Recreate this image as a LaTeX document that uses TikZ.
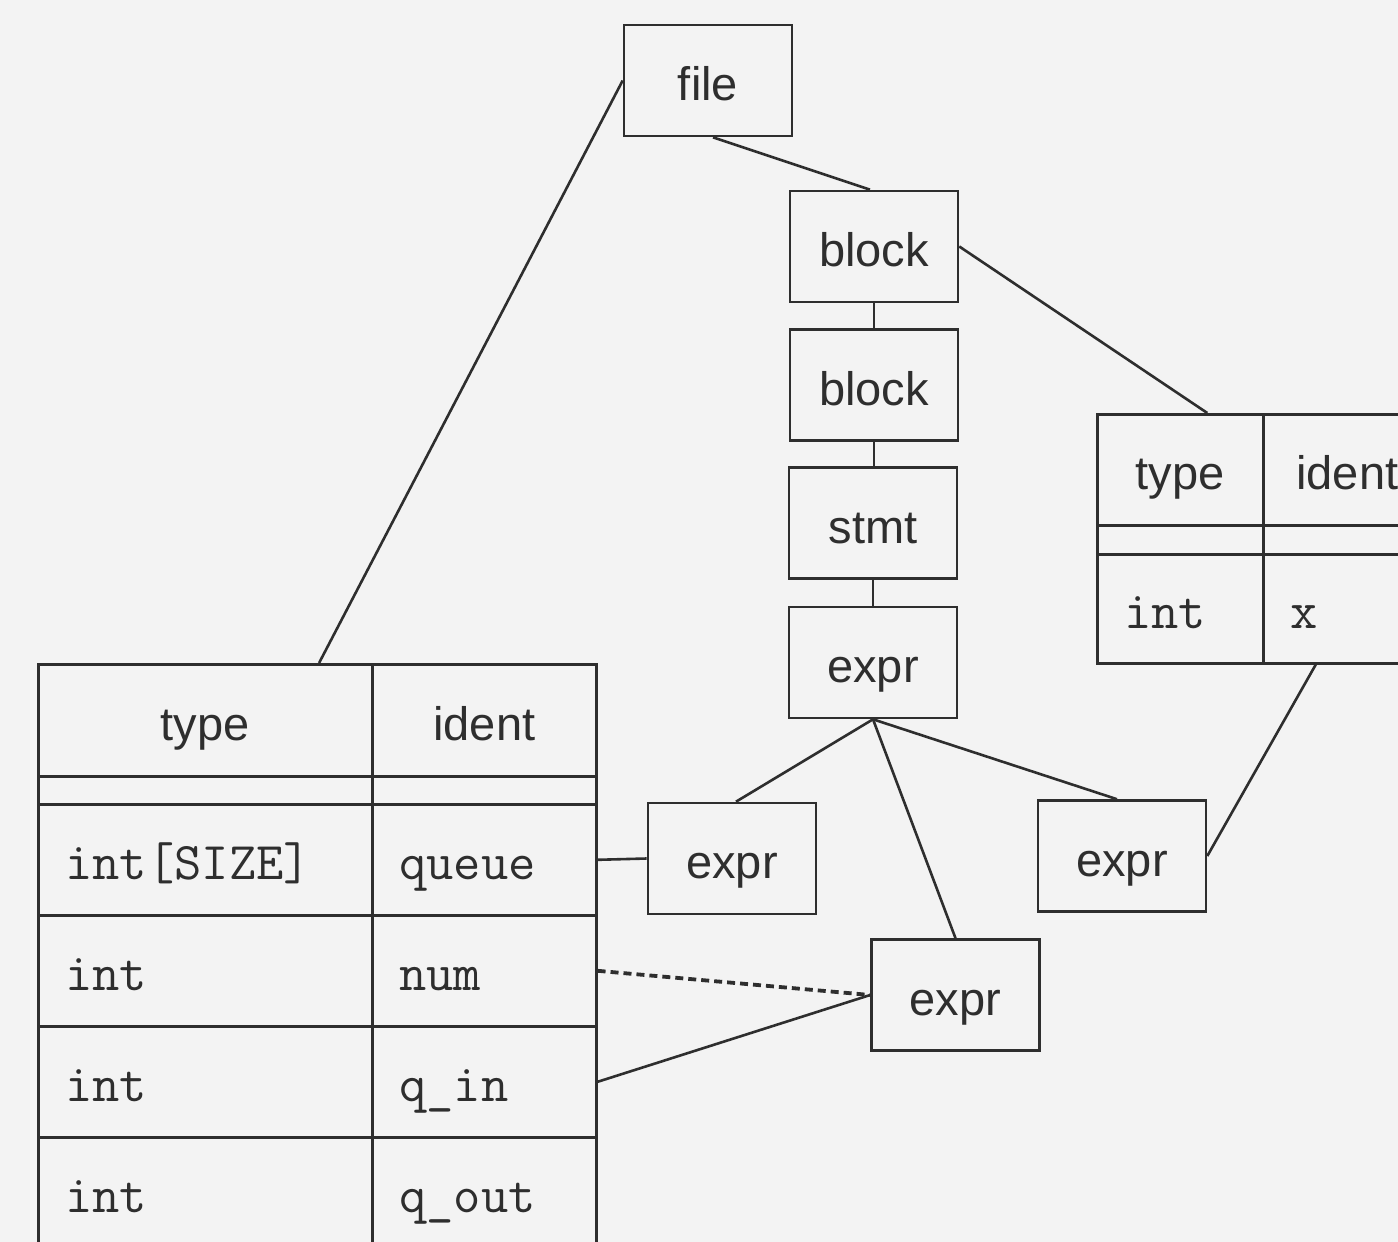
\documentclass[tikz,border=0pt]{standalone}
\usepackage{fontspec}
\setmainfont{Liberation Sans}
\usetikzlibrary{calc}
\definecolor{bg}{HTML}{F3F3F3}
\definecolor{ink}{HTML}{2E2E2E}
\begin{document}
\begin{tikzpicture}[x=0.5pt,y=-0.5pt,
  line width=1.3pt, color=ink,
  lbl/.style={font=\fontsize{23.5}{28}\selectfont, text height=20pt, text depth=0pt},
  box/.style={lbl, draw, rectangle, inner sep=0pt, minimum width=84pt, minimum height=55.5pt},
  cellc/.style 2 args={lbl, draw, rectangle, inner sep=0pt, anchor=north west,
     minimum width=#1, minimum height=#2},
  spacer/.style 2 args={draw, rectangle, inner sep=0pt, anchor=north west,
     minimum width=#1, minimum height=#2},
  celll/.style 2 args={lbl, draw, rectangle, inner xsep=13.5pt, inner ysep=0pt, anchor=north west,
     text width=#1-27pt, align=left, minimum height=#2, font=\fontsize{26.5}{30}\selectfont\ttfamily},
  link/.style={line width=1.3pt},
  ref/.style={line width=1.9pt, dash pattern=on 4pt off 2.5pt}
]
\useasboundingbox (0,0) rectangle (1398,1242);
\fill[bg] (0,0) rectangle (1398,1242);
\clip (0,0) rectangle (1398,1242);

% tree boxes
\node[box] (file)   at (708,80.5) {file};
\node[box] (block1) at (874,246.5) {block};
\node[box] (block2) at (874,385) {block};
\node[box] (stmt)   at (873,523) {stmt};
\node[box] (exprT)  at (873,662.5) {expr};
\node[box] (exprL)  at (732,858.5) {expr};
\node[box] (exprR)  at (1122,856) {expr};
\node[box] (exprB)  at (955.5,995) {expr};

% left table
\node[cellc={167pt}{56pt}] (lth1) at (37,663) {type};
\node[cellc={112pt}{56pt}] (lth2) at (371,663) {ident};
\node[spacer={167pt}{14pt}] (lts1) at (37,775) {};
\node[spacer={112pt}{14pt}] (lts2) at (371,775) {};
\node[celll={167pt}{55.5pt}] (lr1a) at (37,803) {int[SIZE]};
\node[celll={112pt}{55.5pt}] (lr1b) at (371,803) {queue};
\node[celll={167pt}{55.5pt}] (lr2a) at (37,914) {int};
\node[celll={112pt}{55.5pt}] (lr2b) at (371,914) {num};
\node[celll={167pt}{55.5pt}] (lr3a) at (37,1025) {int};
\node[celll={112pt}{55.5pt}] (lr3b) at (371,1025) {q\_in};
\node[celll={167pt}{55.5pt}] (lr4a) at (37,1136) {int};
\node[celll={112pt}{55.5pt}] (lr4b) at (371,1136) {q\_out};

% right table
\node[cellc={83pt}{55.5pt}] (rth1) at (1096,413) {type};
\node[cellc={84pt}{55.5pt}] (rth2) at (1262,413) {ident};
\node[spacer={83pt}{14.5pt}] (rts1) at (1096,524) {};
\node[spacer={84pt}{14.5pt}] (rts2) at (1262,524) {};
\node[celll={83pt}{54.5pt}] (rr1a) at (1096,553) {int};
\node[celll={84pt}{54.5pt}] (rr1b) at (1262,553) {x};

% connectors
\draw[link] (file.west) -- ($(lth1.north west)!0.838!(lth1.north east)$);
\draw[link] ($(file.south)+(5,0)$) -- ($(block1.north)+(-4,0)$);
\draw[link] (block1.east) -- ($(rth1.north west)!0.66!(rth1.north east)$);
\draw[link] (block1.south) -- (block2.north);
\draw[link] (block2.south) -- (block2.south |- stmt.north);
\draw[link] (stmt.south) -- (exprT.north);
\draw[link] (exprT.south) -- ($(exprL.north)+(4,0)$);
\draw[link] (exprT.south) -- ($(exprR.north)+(-5,0)$);
\draw[link] (exprT.south) -- (exprB.north);
\draw[link] ($(rr1b.south west)!0.315!(rr1b.south east)$) -- (exprR.east);
\draw[link] (lr1b.east) -- (exprL.west);
\draw[ref] (lr2b.east) -- (exprB.west);
\draw[link] (lr3b.east) -- (exprB.west);
\end{tikzpicture}
\end{document}
